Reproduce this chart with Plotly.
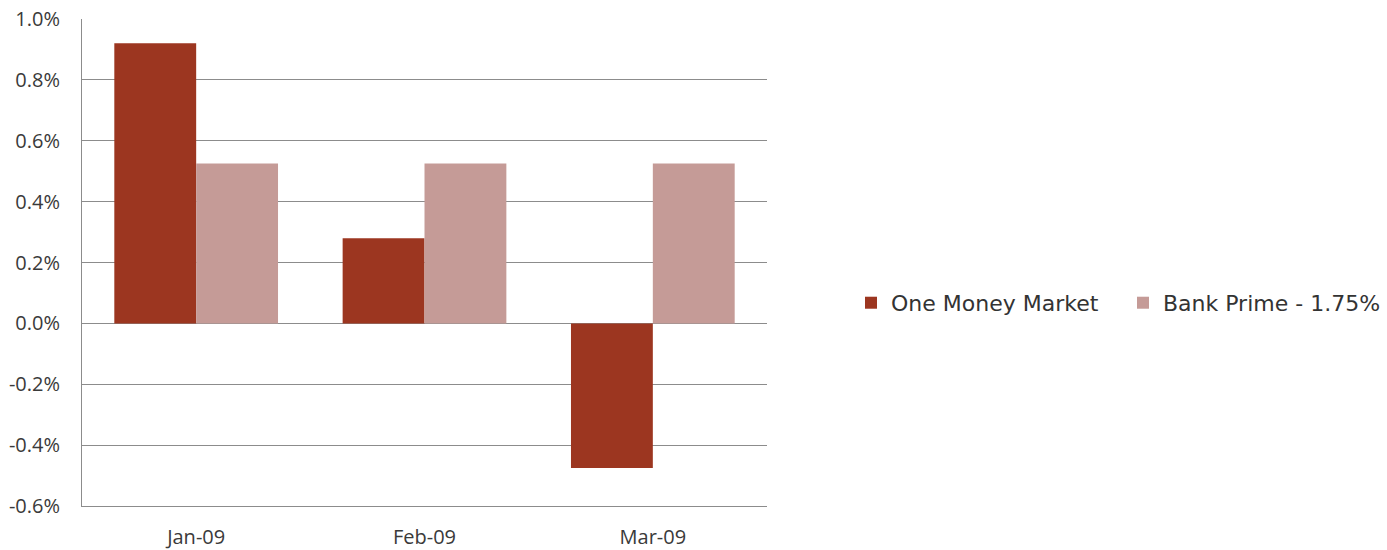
import plotly.graph_objects as go

categories = ["Jan-09", "Feb-09", "Mar-09"]
one_money_market = [0.92, 0.28, -0.475]
bank_prime = [0.525, 0.525, 0.525]
series_names = ["One Money Market", "Bank Prime - 1.75%"]
y_ticks = [-0.6, -0.4, -0.2, 0.0, 0.2, 0.4, 0.6, 0.8, 1.0]

fig = go.Figure()
fig.add_trace(go.Bar(x=categories, y=one_money_market, name=series_names[0],
                     marker=dict(color="#9C3620", line=dict(width=0))))
fig.add_trace(go.Bar(x=categories, y=bank_prime, name=series_names[1],
                     marker=dict(color="#C59B97", line=dict(width=0))))

font = dict(family="Open Sans, Liberation Sans, sans-serif", size=20, color="#3a3a3a")
fig.update_layout(
    width=1387, height=550,
    margin=dict(l=82, r=620, t=19, b=44, autoexpand=False),
    paper_bgcolor="white", plot_bgcolor="white",
    barmode="group", bargap=0.283, bargroupgap=0,
    font=font,
    showlegend=True,
    legend=dict(orientation="h", x=1.1226, xanchor="left", y=0.417, yanchor="middle",
                font=dict(family="DejaVu Sans, Verdana, sans-serif", size=22, color="#333333"),
                entrywidth=227, entrywidthmode="pixels", itemwidth=30,
                bgcolor="rgba(0,0,0,0)"),
    xaxis=dict(showgrid=False, showline=True, linecolor="#8C8C8C", linewidth=1,
               ticks="", ticklabelstandoff=13, tickfont=font, automargin=False),
    yaxis=dict(range=[-0.6, 1.0], tickvals=y_ticks,
               ticktext=[f"{v:.1f}%" for v in y_ticks],
               showgrid=True, gridcolor="#8C8C8C", gridwidth=1,
               zeroline=False, showline=True, linecolor="#8C8C8C", linewidth=1,
               mirror=False, ticks="", ticklabelstandoff=17, tickfont=font,
               automargin=False),
)

fig.write_html("out.html")
